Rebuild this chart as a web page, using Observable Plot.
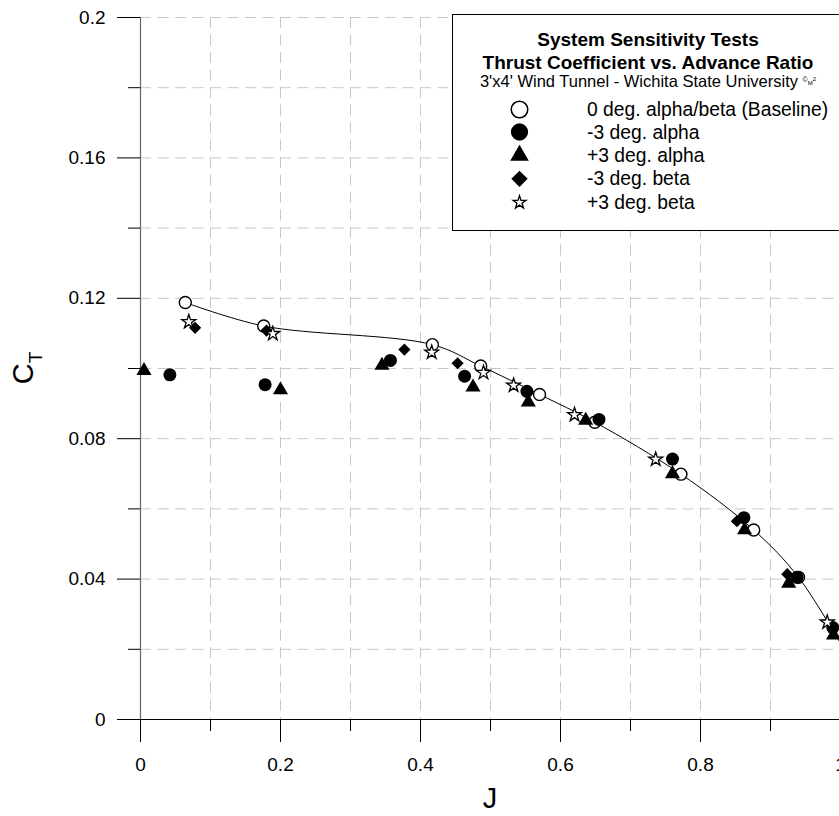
<!DOCTYPE html>
<html>
<head>
<meta charset="utf-8">
<script src="https://cdn.jsdelivr.net/npm/d3@7"></script>
<script src="https://cdn.jsdelivr.net/npm/@observablehq/plot@0.6"></script>
<style>
  html, body { margin: 0; padding: 0; background: #fff; overflow: hidden; }
  #chart { position: relative; width: 839px; height: 816px; overflow: hidden; }
  #chart svg { max-width: none !important; display: block; }
</style>
</head>
<body>
<div id="chart"></div>
<script>
// ---- Data ----
const baselineJ  = [0.064, 0.176, 0.417, 0.486, 0.570, 0.649, 0.772, 0.876, 0.940, 1.012];
const baselineCT = [0.1188, 0.1121, 0.1068, 0.1007, 0.0926, 0.0847, 0.0699, 0.0540, 0.0405, 0.0176];

const alphaM3J  = [0.042, 0.178, 0.357, 0.463, 0.552, 0.655, 0.760, 0.862, 0.938, 0.989];
const alphaM3CT = [0.0982, 0.0954, 0.1023, 0.0978, 0.0935, 0.0855, 0.0742, 0.0575, 0.0405, 0.0262];

const alphaP3J  = [0.005, 0.200, 0.345, 0.475, 0.554, 0.636, 0.760, 0.863, 0.926, 0.990];
const alphaP3CT = [0.0994, 0.0939, 0.1009, 0.0947, 0.0904, 0.0852, 0.0700, 0.0540, 0.0388, 0.0240];

const betaM3J  = [0.078, 0.180, 0.377, 0.453, 0.852, 0.924];
const betaM3CT = [0.1116, 0.1108, 0.1054, 0.1015, 0.0565, 0.0414];

const betaP3J  = [0.069, 0.189, 0.416, 0.490, 0.533, 0.620, 0.736, 0.981];
const betaP3CT = [0.1133, 0.1099, 0.1046, 0.0988, 0.0952, 0.0868, 0.0741, 0.0277];

// ---- Ticks ----
const xMajorTicks  = [0, 0.2, 0.4, 0.6, 0.8, 1];
const xMajorLabels = ["0", "0.2", "0.4", "0.6", "0.8", "1"];
const xMinorTicks  = [0.1, 0.3, 0.5, 0.7, 0.9];
const yMajorTicks  = [0, 0.04, 0.08, 0.12, 0.16, 0.2];
const yMajorLabels = ["0", "0.04", "0.08", "0.12", "0.16", "0.2"];
const yMinorTicks  = [0.02, 0.06, 0.1, 0.14, 0.18];
const xGridValues  = [0.1, 0.2, 0.3, 0.4, 0.5, 0.6, 0.7, 0.8, 0.9];
const yGridValues  = [0.02, 0.04, 0.06, 0.08, 0.1, 0.12, 0.14, 0.16, 0.18, 0.2];

// ---- Texts ----
const xTitle = "J";
const yTitleMain = "C";
const yTitleSub = "T";
const legendTitles = ["System Sensitivity Tests", "Thrust Coefficient vs. Advance Ratio"];
const legendSubtitle = "3'x4' Wind Tunnel - Wichita State University ";
const legendLabels = ["0 deg. alpha/beta (Baseline)", "-3 deg. alpha", "+3 deg. alpha", "-3 deg. beta", "+3 deg. beta"];

const rows = (js, cts) => js.map((J, i) => ({J, CT: cts[i]}));
const baseline = rows(baselineJ, baselineCT);
const alphaM3 = rows(alphaM3J, alphaM3CT);
const alphaP3 = rows(alphaP3J, alphaP3CT);
const betaM3 = rows(betaM3J, betaM3CT);
const betaP3 = rows(betaP3J, betaP3CT);

const FONT = "'Liberation Sans', Arial, Helvetica, sans-serif";
const grid = {stroke: "#c8c8c8", strokeWidth: 1, strokeDasharray: "11,6.5"};

const plot = Plot.plot({
  width: 841,
  height: 816,
  marginLeft: 140,
  marginRight: 1,
  marginTop: 17,
  marginBottom: 97,
  x: {domain: [0, 1], label: null},
  y: {domain: [0, 0.2], label: null},
  style: {fontFamily: FONT, fontSize: "19px", background: "#fff", color: "#000", maxWidth: "none"},
  marks: [
    Plot.ruleX(xGridValues, grid),
    Plot.ruleY(yGridValues, grid),
    Plot.ruleY([0], {stroke: "#000", strokeWidth: 1}),
    Plot.ruleX([0], {stroke: "#666", strokeWidth: 1.2}),
    Plot.axisX(xMajorTicks, {tickSize: 23, tickPadding: 15, fontSize: 19,
      tickFormat: d => xMajorLabels[xMajorTicks.indexOf(d)]}),
    Plot.axisX(xMinorTicks, {tickSize: 12, tickFormat: () => ""}),
    Plot.axisY(yMajorTicks, {tickSize: 23, tickPadding: 12, fontSize: 19,
      tickFormat: d => yMajorLabels[yMajorTicks.indexOf(d)]}),
    Plot.axisY(yMinorTicks, {tickSize: 12, tickFormat: () => ""}),
    Plot.line(baseline, {x: "J", y: "CT", curve: "catmull-rom", stroke: "#000", strokeWidth: 1}),
    Plot.dot(baseline, {x: "J", y: "CT", r: 6, fill: "#fff", stroke: "#000", strokeWidth: 1.4}),
    Plot.dot(alphaM3, {x: "J", y: "CT", r: 6.5, fill: "#000"}),
    Plot.dot(alphaP3, {x: "J", y: "CT", symbol: "triangle", r: 5.6, fill: "#000"}),
    Plot.dot(betaM3, {x: "J", y: "CT", symbol: "diamond2", r: 5.5, fill: "#000"}),
    Plot.dot(betaP3, {x: "J", y: "CT", symbol: "star", r: 4.4, fill: "#fff", stroke: "#000", strokeWidth: 1.3})
  ]
});
plot.style.maxWidth = "none";
document.getElementById("chart").appendChild(plot);

// ---- Axis titles ----
const svg = d3.select(plot);
const xs = plot.scale("x"), ys = plot.scale("y");

svg.append("text")
  .attr("x", xs.apply(0.5)).attr("y", 808)
  .attr("text-anchor", "middle")
  .attr("font-family", FONT).attr("font-size", 29)
  .text(xTitle);

const yt = svg.append("text")
  .attr("transform", `translate(33,${ys.apply(0.1)}) rotate(-90)`)
  .attr("text-anchor", "middle")
  .attr("font-family", FONT).attr("font-size", 29);
yt.append("tspan").text(yTitleMain);
yt.append("tspan").attr("font-size", 19).attr("dy", 9).text(yTitleSub);

// ---- Legend ----
const lg = svg.append("g").attr("font-family", FONT);
lg.append("rect").attr("x", 452.5).attr("y", 14.5).attr("width", 395).attr("height", 216)
  .attr("fill", "#fff").attr("stroke", "#000").attr("stroke-width", 1);
const cx = 648;
lg.append("text").attr("x", cx).attr("y", 46).attr("text-anchor", "middle")
  .attr("font-weight", "bold").attr("font-size", 19).text(legendTitles[0]);
lg.append("text").attr("x", cx).attr("y", 69).attr("text-anchor", "middle")
  .attr("font-weight", "bold").attr("font-size", 19).text(legendTitles[1]);
const st = lg.append("text").attr("x", cx).attr("y", 87).attr("text-anchor", "middle")
  .attr("font-size", 16.5);
st.append("tspan").text(legendSubtitle);
st.append("tspan").attr("font-size", 7).attr("dy", -5).text("©");
st.append("tspan").attr("font-size", 6).attr("dy", 3).text("M");
st.append("tspan").attr("font-size", 6).attr("dy", -4).text("2");

const baselines = [116, 138.5, 162, 185.3, 209];
const symDefs = [
  {type: d3.symbolCircle, size: 215, fill: "#fff", stroke: "#000", sw: 1.5},
  {type: d3.symbolCircle, size: 235, fill: "#000", stroke: "none", sw: 0},
  {type: d3.symbolTriangle, size: 150, fill: "#000", stroke: "none", sw: 0},
  {type: d3.symbolDiamond2, size: 170, fill: "#000", stroke: "none", sw: 0},
  {type: d3.symbolStar, size: 52, fill: "#fff", stroke: "#000", sw: 1.3}
];
legendLabels.forEach((lab, i) => {
  const s = symDefs[i];
  lg.append("path")
    .attr("d", d3.symbol(s.type, s.size)())
    .attr("transform", `translate(519.5,${baselines[i] - 6.5})`)
    .attr("fill", s.fill).attr("stroke", s.stroke).attr("stroke-width", s.sw);
  lg.append("text").attr("x", 587).attr("y", baselines[i])
    .attr("text-anchor", "start").attr("font-size", 19.3).text(lab);
});
</script>
</body>
</html>
